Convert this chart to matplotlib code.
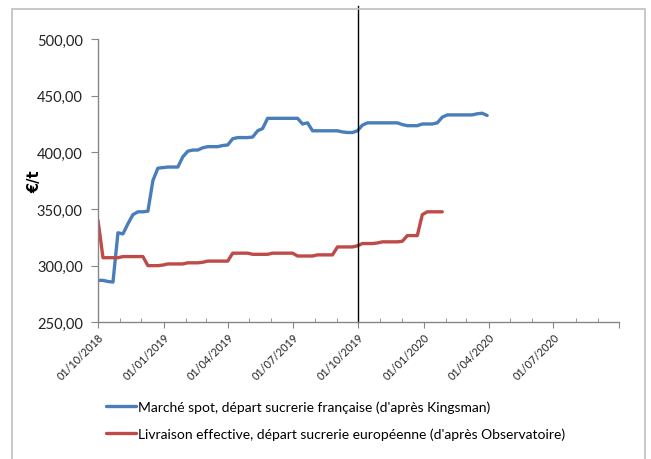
import matplotlib
matplotlib.use("Agg")
import matplotlib.pyplot as plt
import matplotlib.dates as mdates
import matplotlib.ticker as mticker
from matplotlib.patches import Rectangle
import pandas as pd

plt.rcParams['font.family'] = ['Lato', 'DejaVu Sans']

start_date = "2018-10-01"
spot_label = "Marché spot, départ sucrerie française (d'après Kingsman)"
obs_label = "Livraison effective, départ sucrerie européenne (d'après Observatoire)"

spot_values = [287, 287, 286, 285.5, 329, 328, 337, 345, 347.5, 347.5,
               348, 375, 386, 386.5, 387, 387, 387, 396, 401, 402,
               402, 404, 405, 405, 405, 406, 406.5, 412, 413, 413,
               413, 413.5, 419, 421, 430, 430, 430, 430, 430, 430,
               430, 425, 426, 419, 419, 419, 419, 419, 419, 418,
               417.5, 417.5, 419, 424, 426, 426, 426, 426, 426, 426,
               426, 424.5, 423.5, 423.5, 423.5, 425, 425, 425, 426, 431,
               433, 433, 433, 433, 433, 433, 434, 434.5, 432.5]

obs_values = [340, 307, 307, 307, 307, 308, 308, 308, 308, 308,
              300, 300, 300, 300.5, 301.5, 301.5, 301.5, 301.5, 302.5, 302.5,
              302.5, 303, 304, 304, 304, 304, 304, 311, 311, 311,
              311, 310, 310, 310, 310, 311, 311, 311, 311, 311,
              308.5, 308.5, 308.5, 308.5, 309.5, 309.5, 309.5, 309.5, 316.5, 316.5,
              316.5, 316.5, 317.5, 319.5, 319.5, 319.5, 320, 321, 321, 321,
              321, 321.5, 326.5, 326.5, 326.5, 345, 347.5, 347.5, 347.5, 347.5]

marker_date = "2019-10-01"
x_min, x_max = "2018-10-01", "2020-10-01"
y_min, y_max, y_step = 250, 500, 50

spot_dates = pd.date_range(start_date, periods=len(spot_values), freq="7D")
obs_dates = pd.date_range(start_date, periods=len(obs_values), freq="7D")

fig = plt.figure(figsize=(6.51, 4.60), dpi=100)
ax = fig.add_axes([98/651, 1-323.3/460, (619-98)/651, (323.3-40)/460])

blue = "#4A7EBB"
red = "#BE4B48"
axis_col = "#868686"

l1, = ax.plot(spot_dates, spot_values, color=blue, lw=2.4, solid_capstyle='round', label=spot_label)
l2, = ax.plot(obs_dates, obs_values, color=red, lw=2.4, solid_capstyle='round', label=obs_label)

ax.set_xlim(pd.Timestamp(x_min), pd.Timestamp(x_max))
ax.set_ylim(y_min, y_max)
ax.yaxis.set_major_locator(mticker.MultipleLocator(y_step))
ax.yaxis.set_major_formatter(mticker.FuncFormatter(lambda v, p: f"{v:.2f}".replace(".", ",")))

ax.xaxis.set_major_locator(mdates.MonthLocator(bymonth=[1, 4, 7, 10], bymonthday=1))
ax.xaxis.set_minor_locator(mdates.MonthLocator())
xmaxnum = mdates.date2num(pd.Timestamp(x_max))
def xfmt(v, p):
    if abs(v - xmaxnum) < 1:
        return ""
    return mdates.num2date(v).strftime("%d/%m/%Y")
ax.xaxis.set_major_formatter(mticker.FuncFormatter(xfmt))

for s in ["top", "right"]:
    ax.spines[s].set_visible(False)
for s in ["left", "bottom"]:
    ax.spines[s].set_color(axis_col)
    ax.spines[s].set_linewidth(1.0)

ax.tick_params(axis='y', which='major', direction='out', length=5, color=axis_col, labelsize=10.5, pad=6, labelcolor="#222222")
ax.tick_params(axis='x', which='major', direction='out', length=4, color=axis_col, labelsize=7.8, pad=2, labelcolor="#222222")
ax.tick_params(axis='x', which='minor', direction='in', length=3, color=axis_col)
for lab in ax.get_xticklabels():
    lab.set_rotation(45)
    lab.set_ha('right')
    lab.set_rotation_mode('anchor')

ax.set_ylabel("€/t", fontsize=10.5, fontweight='bold', family=['DejaVu Sans'])
ax.yaxis.set_label_coords((42-98)/521, 0.5)

# vertical marker line
md = pd.Timestamp(marker_date)
ax.plot([md, md], [y_min, y_max + (40-7)/283.3*(y_max-y_min)], color="black", lw=1.0, clip_on=False)

# outer frame
fig.patches.append(Rectangle((12/651, -0.05), (645-12)/651, 1.05 - 10/460, transform=fig.transFigure,
                             fill=False, edgecolor="#BFBFBF", lw=1.2))

fig.legend(handles=[l1, l2], loc='upper left', bbox_to_anchor=(100/651, 1-396/460),
           frameon=False, fontsize=10, handlelength=2.2, handletextpad=0.1,
           labelspacing=1.05, borderaxespad=0)

fig.savefig("out.png", dpi=100)
